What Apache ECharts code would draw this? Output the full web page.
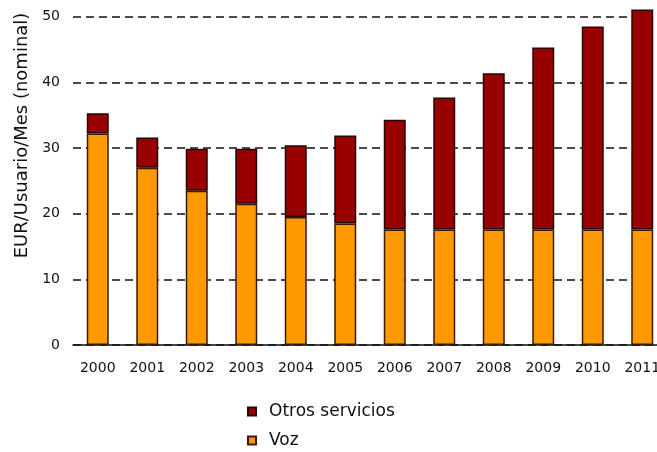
<!DOCTYPE html>
<html>
<head>
<meta charset="utf-8">
<script src="https://cdn.jsdelivr.net/npm/echarts@6/dist/echarts.min.js"></script>
<style>
  html, body { margin: 0; padding: 0; background: #fff; }
  #main { width: 657px; height: 452px; }
</style>
</head>
<body>
<div id="main"></div>
<script>
// valores (EUR/usuario/mes)
const years = ["2000", "2001", "2002", "2003", "2004", "2005", "2006", "2007", "2008", "2009", "2010", "2011"];
const voz = [32.2, 27.0, 23.5, 21.5, 19.5, 18.5, 17.6, 17.6, 17.6, 17.6, 17.6, 17.6];
const otros = [3.1, 4.6, 6.4, 8.4, 10.9, 13.4, 16.7, 20.1, 23.8, 27.7, 30.9, 33.5];

const font = "DejaVu Sans";

let option = {
  animation: false,
  grid: {
    left: 73,
    right: -10,
    top: -49,
    bottom: 107,
    outerBoundsMode: "none",
    containLabel: false,
  },
  legend: {
    orient: "vertical",
    left: 247,
    top: 403,
    padding: 0,
    itemGap: 12,
    itemWidth: 8,
    itemHeight: 8,
    icon: "rect",
    data: ["Otros servicios", "Voz"],
    textStyle: {
      fontFamily: font,
      fontSize: 17,
      color: "#111",
      padding: [0, 0, 0, 8],
    },
  },
  xAxis: {
    type: "category",
    data: years,
    axisTick: { show: false },
    axisLine: { lineStyle: { color: "#111", width: 1.5 } },
    axisLabel: {
      fontFamily: font,
      fontSize: 14,
      color: "#111",
      margin: 16,
      interval: 0,
    },
  },
  yAxis: {
    type: "value",
    min: 0,
    max: 60,
    interval: 10,
    name: "EUR/Usuario/Mes (nominal)",
    nameLocation: "middle",
    nameGap: 42,
    nameTextStyle: {
      fontFamily: font,
      fontSize: 18,
      color: "#111",
      padding: [0, 0, 0, 25],
    },
    axisLine: { show: false },
    axisTick: { show: false },
    axisLabel: {
      fontFamily: font,
      fontSize: 14,
      color: "#111",
      margin: 13,
    },
    splitLine: {
      lineStyle: { color: "#111", type: [8, 5], width: 1.5 },
    },
  },
  series: [
    {
      name: "Voz",
      type: "bar",
      stack: "total",
      barWidth: 22,
      data: voz,
      itemStyle: { color: "#ff9900", borderColor: "#3a1a05", borderWidth: 1.5 },
    },
    {
      name: "Otros servicios",
      type: "bar",
      stack: "total",
      barWidth: 22,
      data: otros,
      itemStyle: { color: "#990000", borderColor: "#2a0505", borderWidth: 1.5 },
    },
  ],
};

let chartDom = document.getElementById("main");
let myChart = echarts.init(chartDom);
option && myChart.setOption(option);
</script>
</body>
</html>
